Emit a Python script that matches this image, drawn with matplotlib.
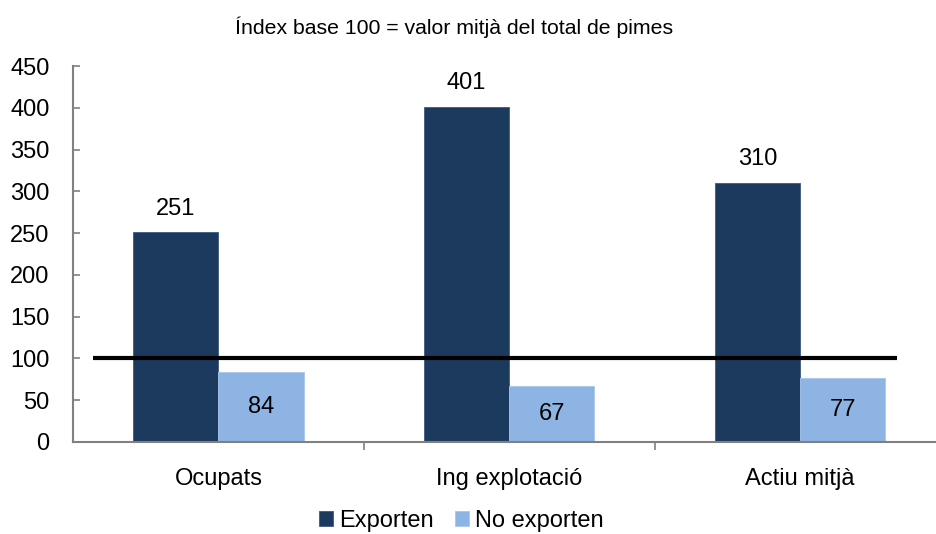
import numpy as np
import matplotlib.pyplot as plt

categories = ['Ocupats', 'Ing explotació', 'Actiu mitjà']
exporten = [251, 401, 310]
no_exporten = [84, 67, 77]
base = 100
title = 'Índex base 100 = valor mitjà del total de pimes'

plt.rcParams['font.family'] = ['Liberation Sans', 'DejaVu Sans']

fig = plt.figure(figsize=(9.36, 5.34), dpi=100)
ax = fig.add_axes([0.078, 0.1723, 0.932, 0.7041])

x = np.arange(len(categories))
w = 0.293
dark = '#1B3A5E'
light = '#8EB4E3'

b1 = ax.bar(x - w / 2, exporten, w, color=dark, edgecolor='#3d5a80', linewidth=0.6, label='Exporten')
b2 = ax.bar(x + w / 2, no_exporten, w, color=light, edgecolor='#a9c6ea', linewidth=0.6, label='No exporten')

for r, v in zip(b1, exporten):
    ax.text(r.get_x() + r.get_width() / 2, v + 15, str(v), ha='center', va='bottom', fontsize=17)
for r, v in zip(b2, no_exporten):
    ax.text(r.get_x() + r.get_width() / 2, v / 2, str(v), ha='center', va='center', fontsize=17)

ax.plot([-0.43, 2.335], [base, base], color='black', linewidth=3, solid_capstyle='butt', zorder=5)

ax.set_xlim(-0.5, 2.5)
ax.set_ylim(0, 450)
ax.set_yticks(range(0, 451, 50))
ax.set_xticks(x)
ax.set_xticklabels(categories, fontsize=17)
ax.set_xticks([0.5, 1.5], minor=True)
ax.tick_params(axis='x', which='major', length=0, pad=19)
ax.tick_params(axis='x', which='minor', length=6, color='#808080', width=1.2)
ax.tick_params(axis='y', labelsize=17, length=5, direction='in', color='#808080', width=1.2, pad=17)

for s in ['top', 'right']:
    ax.spines[s].set_visible(False)
for s in ['left', 'bottom']:
    ax.spines[s].set_color('#808080')
    ax.spines[s].set_linewidth(1.5)

fig.text(0.485, 0.949, title, ha='center', va='center', fontsize=15.3)

fig.legend(handles=[b1, b2], loc='center', bbox_to_anchor=(0.4925, 0.025), ncol=2, frameon=False,
           fontsize=17, handlelength=0.6, handleheight=0.6, handletextpad=0.25, columnspacing=0.9)

fig.savefig('out.png', dpi=100)
